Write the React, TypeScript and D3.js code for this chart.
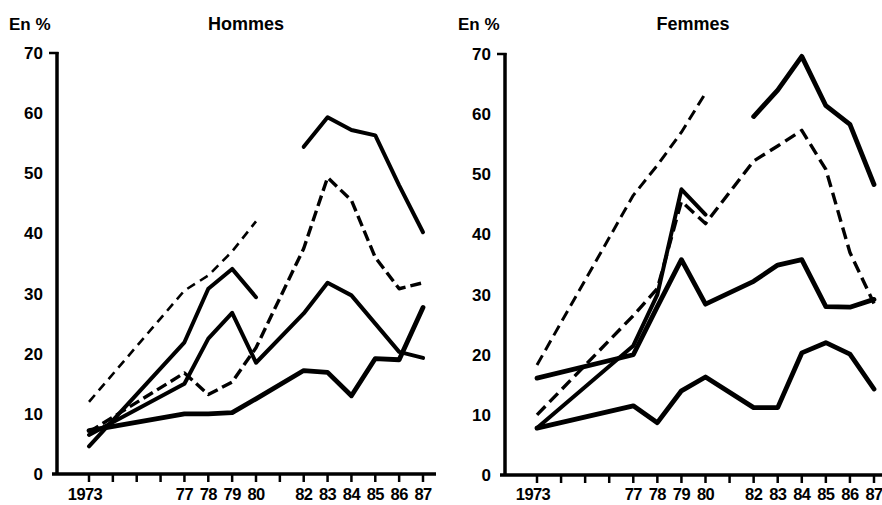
import React from "react";
import * as d3 from "d3";

// ---------- data ----------
const years = [1973, 1977, 1978, 1979, 1980, 1982, 1983, 1984, 1985, 1986, 1987];
const tickYears = [1973, 1974, 1975, 1976, 1977, 1978, 1979, 1980, 1981, 1982, 1983, 1984, 1985, 1986, 1987];
const tickLabels = ["1973", "", "", "", "77", "78", "79", "80", "", "82", "83", "84", "85", "86", "87"];
const yTicks = [0, 10, 20, 30, 40, 50, 60, 70];

// Hommes
const hommesA = [12, 30.5, 33, 37, 42, null, null, null, null, null, null];
const hommesB = [7, 16.8, 13.2, 15.3, 21, 37.5, 49.3, 45.5, 36, 30.8, 31.8];
const hommesC1 = [4.6, 21.9, 30.8, 34.1, 29.4, null, null, null, null, null, null];
const hommesC2 = [null, null, null, null, null, 54.4, 59.3, 57.2, 56.3, 48, 40.2];
const hommesD = [6.5, 15, 22.5, 26.8, 18.5, 26.7, 31.8, 29.7, 25, 20.3, 19.3];
const hommesE = [7.2, 10, 10, 10.2, 12.5, 17.2, 16.9, 13, 19.2, 19, 27.7];

// Femmes
const femmesA = [18.3, 46.5, 51.5, 57, 63.5, null, null, null, null, null, null];
const femmesB = [10, 26.5, 31, 45.5, 41.8, 52.2, 54.7, 57.3, 50.8, 37, 28.5];
const femmesC1 = [7.8, 21.5, 30, 47.5, 43.3, null, null, null, null, null, null];
const femmesC2 = [null, null, null, null, null, 59.6, 64, 69.6, 61.4, 58.3, 48.3];
const femmesD = [16.1, 20, 28, 35.8, 28.4, 32.2, 34.9, 35.8, 28, 27.9, 29.2];
const femmesE = [7.8, 11.5, 8.7, 14, 16.3, 11.2, 11.2, 20.3, 22, 20.1, 14.3];

type Style = { width: number; dash?: string };

const FONT = "'Liberation Sans', Arial, Helvetica, sans-serif";

function Panel(props: {
  title: string;
  titleX: number;
  enX: number;
  axisX: number;
  xRange: [number, number];
  yRange: [number, number];
  baseEnd: number;
  series: { values: (number | null)[]; style: Style }[];
}) {
  const { title, titleX, enX, axisX, xRange, yRange, baseEnd, series } = props;
  const x = d3.scaleLinear().domain([1973, 1987]).range(xRange);
  const y = d3.scaleLinear().domain([0, 70]).range(yRange);
  const line = d3
    .line<{ yr: number; v: number | null }>()
    .defined((d) => d.v !== null)
    .x((d) => x(d.yr))
    .y((d) => y(d.v as number));

  const y0 = y(0);
  const y70 = y(70);
  return (
    <g>
      <text x={enX} y={30} fontFamily={FONT} fontWeight="bold" fontSize={17}>
        En %
      </text>
      <text x={titleX} y={30} fontFamily={FONT} fontWeight="bold" fontSize={18} textAnchor="middle">
        {title}
      </text>
      {/* y axis */}
      <line x1={axisX} x2={axisX} y1={y70 - 1} y2={y0 + 1} stroke="#000" strokeWidth={3.5} />
      <line x1={axisX - 8} x2={axisX + 1.5} y1={y70} y2={y70} stroke="#000" strokeWidth={2.5} />
      {yTicks.map((t) => (
        <text
          key={t}
          x={axisX - 14}
          y={y(t) + 6}
          fontFamily={FONT}
          fontWeight="bold"
          fontSize={17}
          textAnchor="end"
        >
          {t}
        </text>
      ))}
      {/* x axis */}
      <line x1={axisX - 5} x2={baseEnd} y1={y0} y2={y0} stroke="#000" strokeWidth={3.5} />
      {tickYears.map((yr, i) => (
        <g key={yr}>
          <line x1={x(yr)} x2={x(yr)} y1={y0} y2={y0 + 8} stroke="#000" strokeWidth={2.5} />
          {tickLabels[i] && (
            <text
              x={x(yr) - (i === 0 ? 4 : 0)}
              y={500}
              fontFamily={FONT}
              fontWeight="bold"
              fontSize={16.5}
              textAnchor="middle"
              letterSpacing={-0.6}
            >
              {tickLabels[i]}
            </text>
          )}
        </g>
      ))}
      {/* series */}
      {series.map((s, i) => (
        <path
          key={i}
          d={line(years.map((yr, j) => ({ yr, v: s.values[j] }))) || ""}
          fill="none"
          stroke="#000"
          strokeWidth={s.style.width}
          strokeDasharray={s.style.dash}
          strokeLinejoin="round"
          strokeLinecap={s.style.dash ? "butt" : "round"}
        />
      ))}
    </g>
  );
}

export default function App() {
  const thinDash: Style = { width: 2.6, dash: "9,6" };
  const dash: Style = { width: 3.4, dash: "11,5" };
  const solid: Style = { width: 4 };
  const thick: Style = { width: 4.8 };
  return (
    <div style={{ position: "absolute", left: 0, top: 0 }}>
      <svg width={882} height={505} style={{ display: "block", background: "#fff" }}>
        <Panel
          title="Hommes"
          titleX={246}
          enX={9}
          axisX={57}
          xRange={[89, 423]}
          yRange={[474, 53]}
          baseEnd={436}
          series={[
            { values: hommesA, style: thinDash },
            { values: hommesB, style: dash },
            { values: hommesC1, style: solid },
            { values: hommesC2, style: solid },
            { values: hommesD, style: solid },
            { values: hommesE, style: thick },
          ]}
        />
        <Panel
          title="Femmes"
          titleX={693}
          enX={458}
          axisX={505}
          xRange={[537, 874]}
          yRange={[475, 54]}
          baseEnd={882}
          series={[
            { values: femmesA, style: { width: 3, dash: "11,6" } },
            { values: femmesB, style: { width: 3.4, dash: "12,6" } },
            { values: femmesC1, style: solid },
            { values: femmesC2, style: thick },
            { values: femmesD, style: thick },
            { values: femmesE, style: thick },
          ]}
        />
      </svg>
    </div>
  );
}
